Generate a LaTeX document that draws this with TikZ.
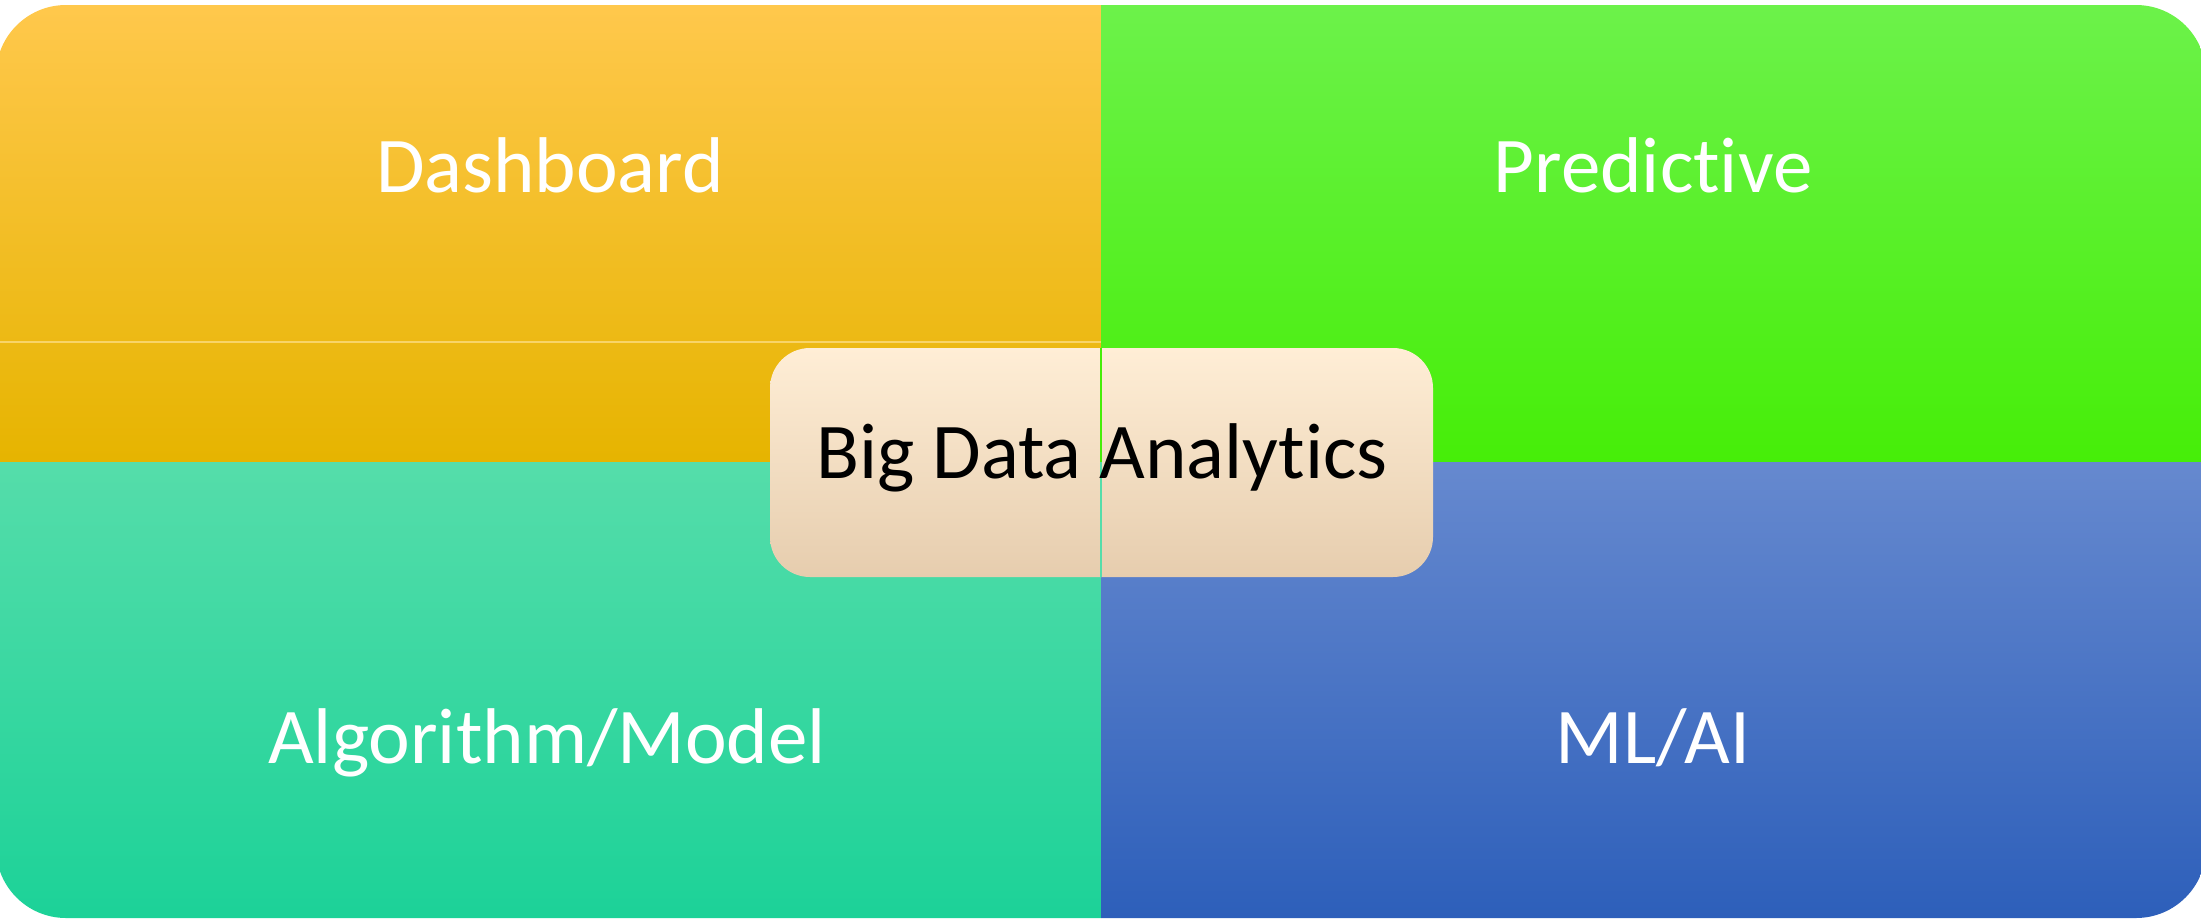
\documentclass[tikz,border=0pt]{standalone}
\usepackage{fontspec}
\setmainfont{Carlito}[Ligatures=NoCommon]
\definecolor{orTop}{HTML}{FFC84C}
\definecolor{orMid}{HTML}{FFC000}
\definecolor{orBot}{HTML}{E6B400}
\definecolor{grTop}{HTML}{6CF24A}
\definecolor{grBot}{HTML}{46EE08}
\definecolor{tlTop}{HTML}{55DDAA}
\definecolor{tlBot}{HTML}{1CD298}
\definecolor{blTop}{HTML}{6689CF}
\definecolor{blBot}{HTML}{2D5FBA}
\definecolor{bxTop}{HTML}{FFEED6}
\definecolor{bxBot}{HTML}{E6CDAE}
\definecolor{faint}{HTML}{F8D468}
\tikzset{
  quadlabel/.style={anchor=base, text=white, inner sep=0pt, font=\fontsize{79}{90}\selectfont},
  centerlabel/.style={anchor=base, text=black, inner sep=0pt, font=\fontsize{79}{90}\selectfont},
  centerbox/.style={rounded corners=40pt, top color=bxTop, bottom color=bxBot, draw=none,
    minimum width=663pt, minimum height=229pt, inner sep=0pt}
}
\begin{document}
\begin{tikzpicture}[x=1pt,y=-1pt]
\useasboundingbox (0,0) rectangle (2201,922);
\begin{scope}
  \clip[rounded corners=70pt] (-4,5) rectangle (2206,918);
  \shade[top color=orTop, middle color=orMid, bottom color=orBot] (0,5) rectangle (1101,462);
  \shade[top color=grTop, bottom color=grBot] (1101,5) rectangle (2206,462);
  \shade[top color=tlTop, bottom color=tlBot] (-4,462) rectangle (1101,918);
  \shade[top color=blTop, bottom color=blBot] (1101,462) rectangle (2206,918);
  \draw[faint, line width=1.2pt] (-4,342) -- (1101,342);
\end{scope}
\node[centerbox] (box) at (1101.5,462.5) {};
\coordinate (vtop) at (1101,348);
\coordinate (vmid) at (1101,462);
\coordinate (vbot) at (1101,577);
\draw[grBot, line width=1.2pt] (vtop) -- (vmid);
\draw[tlTop, line width=1.2pt] (vmid) -- (vbot);
\node[centerlabel] (bda) at (1102,478) {Big Data Analytics};
\node[quadlabel] (dash) at (550,192) {Dashboard};
\node[quadlabel] (pred) at (1653,192) {Predictive};
\node[quadlabel] (algo) at (547,763) {Algorithm/Model};
\node[quadlabel] (mlai) at (1653,763) {ML/AI};
\end{tikzpicture}
\end{document}
